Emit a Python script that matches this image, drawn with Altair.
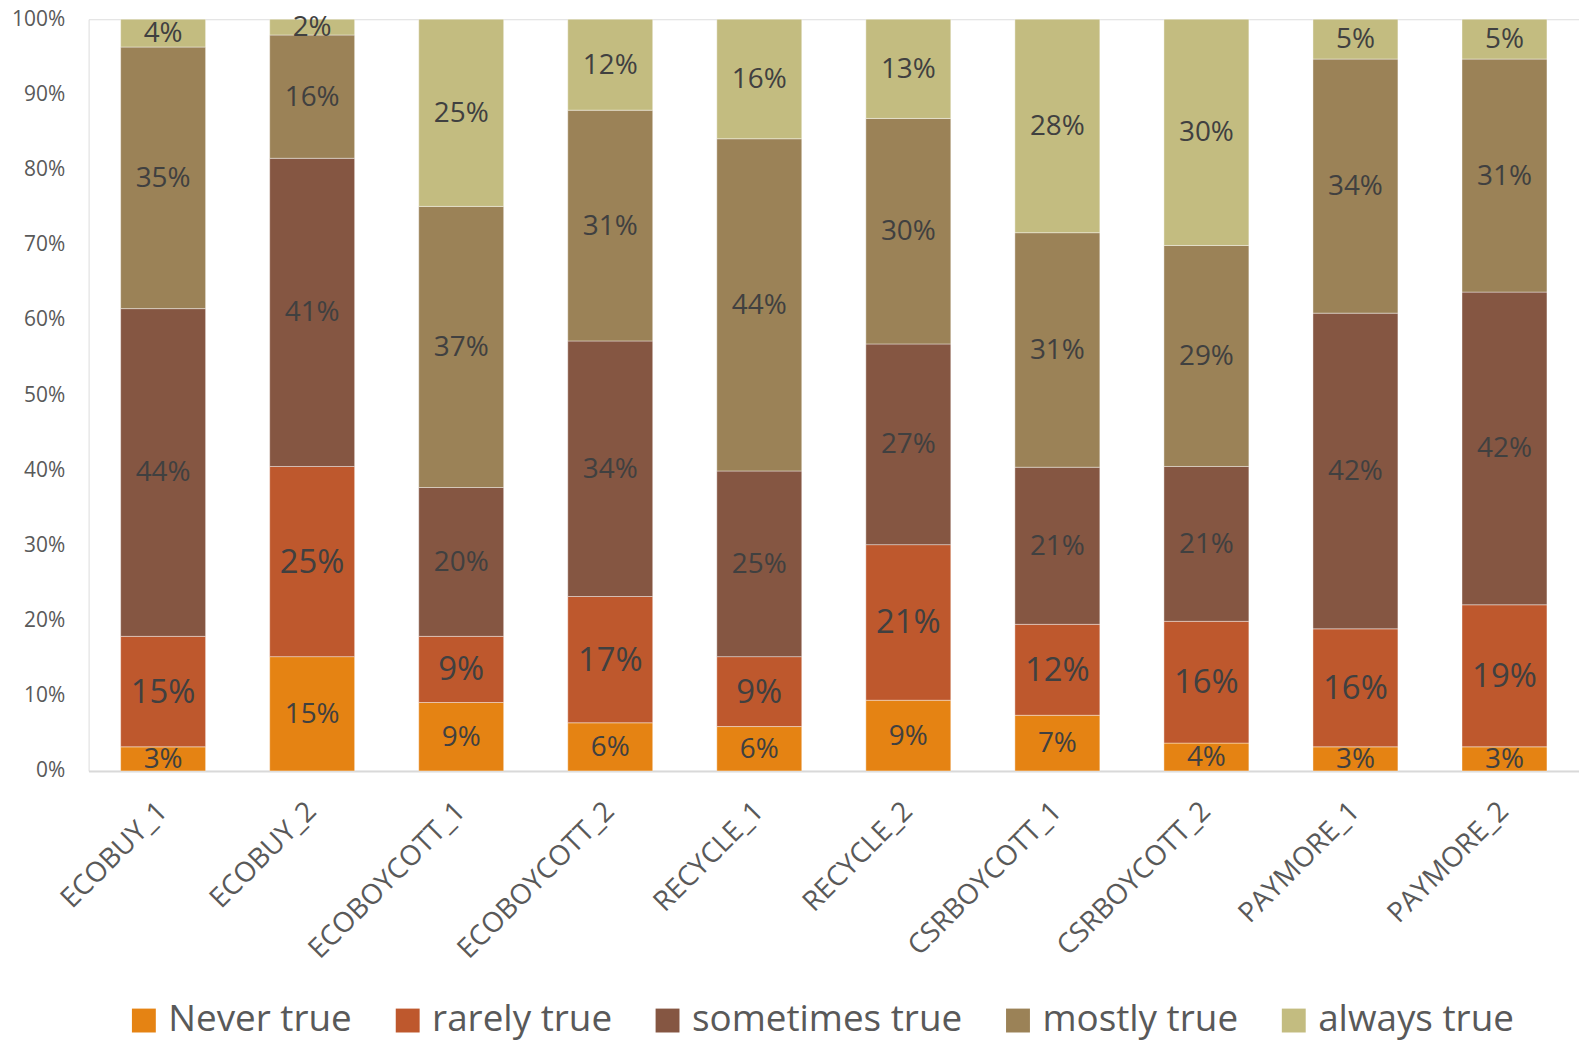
import altair as alt
import pandas as pd

categories = ["ECOBUY_1", "ECOBUY_2", "ECOBOYCOTT_1", "ECOBOYCOTT_2", "RECYCLE_1",
              "RECYCLE_2", "CSRBOYCOTT_1", "CSRBOYCOTT_2", "PAYMORE_1", "PAYMORE_2"]
series = ["Never true", "rarely true", "sometimes true", "mostly true", "always true"]

never_true = [3.2, 15.2, 9.1, 6.4, 5.9, 9.4, 7.4, 3.7, 3.2, 3.2]
rarely_true = [14.7, 25.3, 8.8, 16.8, 9.3, 20.7, 12.1, 16.2, 15.7, 18.9]
sometimes_true = [43.6, 41.0, 19.8, 34.0, 24.7, 26.7, 20.9, 20.6, 42.0, 41.6]
mostly_true = [34.8, 16.4, 37.4, 30.7, 44.2, 30.0, 31.2, 29.4, 33.8, 31.0]
always_true = [3.7, 2.1, 24.9, 12.1, 15.9, 13.2, 28.4, 30.1, 5.3, 5.3]

colors = ["#E58313", "#BE582D", "#855642", "#9B8257", "#C3BC80"]
y_ticks = [0, 10, 20, 30, 40, 50, 60, 70, 80, 90, 100]

all_series = [never_true, rarely_true, sometimes_true, mostly_true, always_true]
rows = []
for si, (s, vals) in enumerate(zip(series, all_series)):
    for c, v in zip(categories, vals):
        rows.append({
            "cat": c, "series": s, "idx": si, "value": v,
            "label": f"{round(v)}%",
            "fs": 33 if s == "rarely true" else 28,
        })
df = pd.DataFrame(rows)

FONT = "Open Sans"

base = alt.Chart(df).transform_stack(
    stack="value", as_=["v0", "v1"], groupby=["cat"],
    sort=[alt.SortField("idx", order="ascending")]
).transform_calculate(mid="(datum.v0 + datum.v1) / 2")

xenc = alt.X("cat:N", sort=categories, title=None,
             scale=alt.Scale(paddingInner=0.43, paddingOuter=0.215),
             axis=alt.Axis(labelAngle=-45, labelAlign="right", labelBaseline="middle",
                           labelFontSize=28, labelFont=FONT, labelColor="#595959",
                           ticks=False, tickSize=0, domain=True, domainColor="#D9D9D9",
                           domainWidth=2, labelPadding=36, grid=False, labelLimit=400))

yscale = alt.Scale(domain=[0, 100], nice=False)

bars = base.mark_bar(stroke="white", strokeWidth=0.8, strokeOpacity=0.5).encode(
    x=xenc,
    y=alt.Y("v0:Q", scale=yscale, title=None,
            axis=alt.Axis(values=y_ticks, labelExpr="datum.value + '%'", ticks=False,
                          domain=False, grid=False, labelFontSize=21, labelFont=FONT,
                          labelColor="#595959", labelPadding=24)),
    y2="v1:Q",
    color=alt.Color("series:N", sort=series,
                    scale=alt.Scale(domain=series, range=colors),
                    legend=alt.Legend(orient="none", legendX=37, legendY=987,
                                      direction="horizontal", title=None,
                                      symbolType="square", symbolSize=576,
                                      symbolStrokeWidth=0, labelFontSize=37,
                                      labelFont=FONT, labelColor="#595959",
                                      columnPadding=37, labelOffset=6,
                                      labelLimit=400, padding=0)),
)

labels = base.mark_text(font=FONT, color="#404040", baseline="middle", dy=1).encode(
    x=alt.X("cat:N", sort=categories),
    y=alt.Y("mid:Q", scale=yscale),
    text="label:N",
    size=alt.Size("fs:Q", scale=None, legend=None),
)

chart = alt.layer(bars, labels).properties(
    width=1497, height=755,
    autosize=alt.AutoSizeParams(type="none"),
    padding={"left": 89, "top": 17, "right": 0, "bottom": 272},
).configure_view(stroke=None).configure(background="white")

chart.save("out.html", embed_options={"renderer": "svg", "actions": False})
